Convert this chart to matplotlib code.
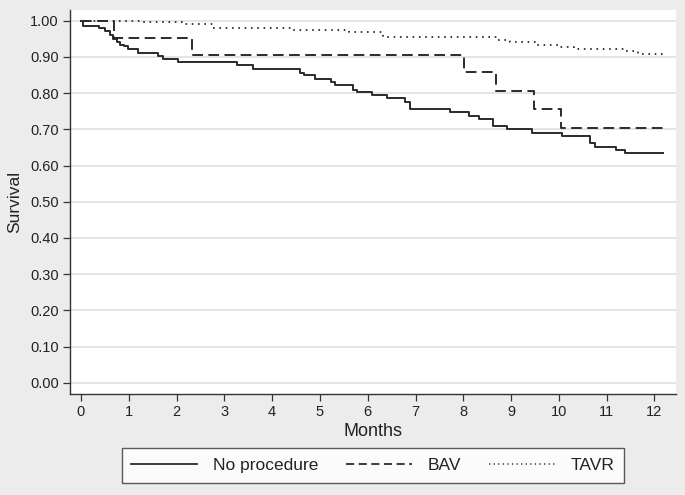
import matplotlib
matplotlib.use("Agg")
import matplotlib.pyplot as plt
from matplotlib.lines import Line2D

plt.rcParams['font.family'] = ['Liberation Sans', 'DejaVu Sans']

# ---- data ----
t_none = [0, 0.05, 0.38, 0.50, 0.61, 0.66, 0.75, 0.82, 0.89, 0.99, 1.20, 1.62, 1.72, 2.04,
          3.26, 3.60, 4.58, 4.67, 4.90, 5.24, 5.31, 5.70, 5.77, 6.08, 6.40, 6.78, 6.88,
          7.72, 8.12, 8.33, 8.63, 8.91, 9.43, 10.06, 10.65, 10.75, 11.19, 11.39, 12.18]
s_none = [1.0, 0.985, 0.980, 0.971, 0.960, 0.950, 0.941, 0.934, 0.929, 0.923, 0.912, 0.903, 0.893, 0.886,
          0.877, 0.867, 0.856, 0.849, 0.840, 0.831, 0.822, 0.810, 0.802, 0.795, 0.786, 0.776, 0.757,
          0.747, 0.738, 0.729, 0.709, 0.700, 0.691, 0.682, 0.663, 0.652, 0.643, 0.635, 0.635]

t_bav = [0, 0.70, 2.33, 8.01, 8.68, 9.48, 10.04, 12.18]
s_bav = [1.0, 0.952, 0.905, 0.857, 0.806, 0.756, 0.705, 0.705]

t_tavr = [0, 1.23, 2.12, 2.77, 4.44, 5.61, 6.32, 8.70, 8.97, 9.53, 10.03, 10.32, 11.40, 11.66, 12.18]
s_tavr = [1.0, 0.996, 0.991, 0.980, 0.973, 0.969, 0.956, 0.948, 0.941, 0.933, 0.927, 0.922, 0.916, 0.908, 0.908]

labels = ["No procedure", "BAV", "TAVR"]
x_ticks = list(range(0, 13))
y_ticks = [i / 10 for i in range(0, 11)]
y_ticklabels = [f"{v:.2f}" for v in y_ticks]

# ---- figure ----
bg = '#ececec'
lc = '#2b2b2b'
fig = plt.figure(figsize=(6.85, 4.95), dpi=100, facecolor=bg)
ax = fig.add_axes([70/685, 1-394/495, (676-70)/685, (394-10)/495])
ax.set_facecolor('white')

for y in y_ticks:
    ax.axhline(y, color='#e4e4e4', lw=1.4, zorder=0)

ax.step(t_none, s_none, where='post', color=lc, lw=1.4, ls='-')
ax.step(t_bav, s_bav, where='post', color=lc, lw=1.4, ls=(0, (5.5, 2.8)))
ax.step(t_tavr, s_tavr, where='post', color=lc, lw=1.3, ls=(0, (0.9, 2.6)))

ax.set_xlim(-0.23, 12.45)
ax.set_ylim(-0.031, 1.0296)
ax.set_xticks(x_ticks)
ax.set_yticks(y_ticks)
ax.set_yticklabels(y_ticklabels)
for sp in ['top', 'right']:
    ax.spines[sp].set_visible(False)
for sp in ['left', 'bottom']:
    ax.spines[sp].set_color('#333333')
    ax.spines[sp].set_linewidth(1.0)
ax.tick_params(axis='both', direction='out', length=5, width=0.9, color='#333333',
               labelsize=10.5, labelcolor='#222222', pad=3)
ax.set_xlabel("Months", fontsize=13, color='#222222', labelpad=3)
ax.set_ylabel("Survival", fontsize=12.5, color='#222222', labelpad=6)

handles = [Line2D([], [], color=lc, lw=1.3, ls='-'),
           Line2D([], [], color=lc, lw=1.3, ls=(0, (4.5, 2.5))),
           Line2D([], [], color=lc, lw=1.1, ls=(0, (0.8, 2.2)))]
leg = fig.legend(handles, labels, loc='center', bbox_to_anchor=(373/685, 1-465.5/495),
                 ncol=3, frameon=True, fancybox=False, edgecolor='#333333',
                 fontsize=12.5, handlelength=3.8, columnspacing=1.6, handletextpad=0.9,
                 borderpad=0.55, borderaxespad=0)
leg.get_frame().set_linewidth(1.0)
for txt in leg.get_texts():
    txt.set_color('#222222')

fig.savefig("out.png", dpi=100, facecolor=bg)
